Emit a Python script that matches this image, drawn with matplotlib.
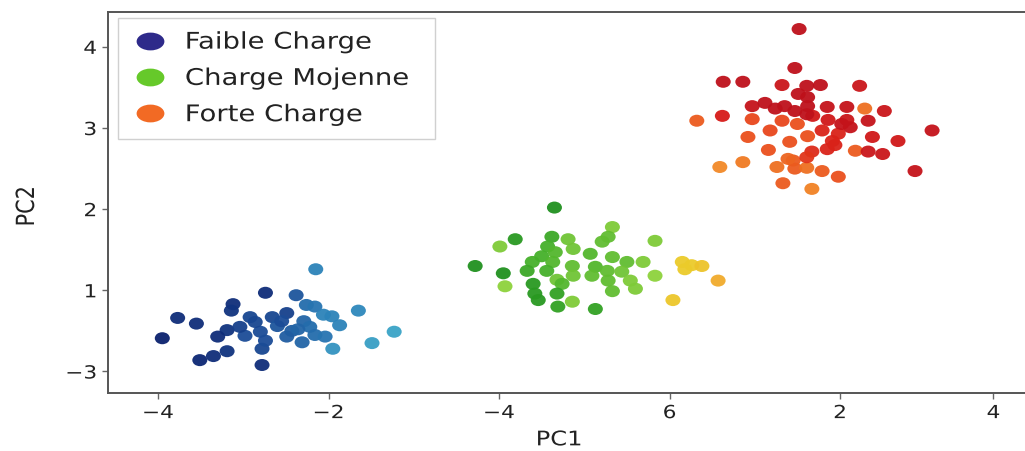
import matplotlib
matplotlib.use("Agg")
import matplotlib.pyplot as plt
import matplotlib.patheffects as pe
from matplotlib.colors import LinearSegmentedColormap
from matplotlib.lines import Line2D
from matplotlib.path import Path
from matplotlib.transforms import Affine2D
import numpy as np

###################### data ###########################
# positions in axis units, shade = place of the dot in its group's colour map

faible_x = [-2.15, -2.74, -2.38, -3.12, -3.14, -2.26, -2.16, -2.06, -1.65, -3.77,
            -3.55, -3.95, -2.92, -2.66, -2.49, -2.29, -1.96, -1.87, -3.19, -3.30,
            -2.98, -2.80, -2.60, -2.49, -2.31, -2.16, -2.04, -1.95, -1.23, -1.49,
            -2.78, -2.78, -3.51, -3.35, -3.19, -2.86, -2.43, -2.74, -3.04, -2.55,
            -2.22, -2.36]
faible_y = [1.26, 0.97, 0.94, 0.83, 0.75, 0.82, 0.80, 0.70, 0.75, 0.66,
            0.59, 0.41, 0.67, 0.67, 0.72, 0.62, 0.68, 0.57, 0.51, 0.43,
            0.44, 0.49, 0.56, 0.43, 0.36, 0.45, 0.43, 0.28, 0.49, 0.35,
            0.28, 0.08, 0.14, 0.19, 0.25, 0.61, 0.50, 0.38, 0.55, 0.62,
            0.55, 0.52]
faible_shade = [0.70, 0.10, 0.40, 0.10, 0.15, 0.55, 0.60, 0.70, 0.75, 0.10,
                0.10, 0.00, 0.30, 0.30, 0.25, 0.50, 0.70, 0.70, 0.15, 0.10,
                0.35, 0.35, 0.40, 0.45, 0.50, 0.55, 0.60, 0.85, 1.00, 0.95,
                0.30, 0.10, 0.05, 0.10, 0.15, 0.30, 0.45, 0.35, 0.25, 0.35,
                0.55, 0.50]

moyenne_x = [0.65, 1.33, 1.28, 1.21, 0.19, 0.01, 0.62, 0.81, 1.83, 0.57,
             0.66, 0.87, 0.50, 1.07, 1.33, 1.50, -0.28, 0.39, 0.63, 0.86,
             1.13, 1.27, 1.44, 1.69, 0.05, 0.33, 0.56, 0.87, 1.09, 1.83,
             1.28, 1.54, 0.68, 0.07, 0.40, 0.74, 1.33, 1.60, 0.42, 0.68,
             0.46, 0.86, 0.69, 1.13, 2.15, 2.26, 2.38, 2.18, 2.57, 2.04]
moyenne_y = [2.02, 1.78, 1.66, 1.60, 1.63, 1.54, 1.66, 1.63, 1.61, 1.54,
             1.47, 1.51, 1.42, 1.45, 1.41, 1.35, 1.30, 1.35, 1.35, 1.30,
             1.29, 1.24, 1.23, 1.35, 1.21, 1.24, 1.24, 1.18, 1.18, 1.18,
             1.12, 1.12, 1.13, 1.05, 1.08, 1.08, 0.99, 1.02, 0.96, 0.96,
             0.88, 0.86, 0.80, 0.77, 1.35, 1.31, 1.30, 1.26, 1.12, 0.88]
moyenne_shade = [0.05, 0.45, 0.35, 0.35, 0.10, 0.45, 0.20, 0.40, 0.45, 0.25,
                 0.30, 0.40, 0.25, 0.30, 0.35, 0.35, 0.05, 0.25, 0.30, 0.35,
                 0.30, 0.35, 0.40, 0.45, 0.05, 0.20, 0.25, 0.40, 0.35, 0.50,
                 0.35, 0.45, 0.40, 0.50, 0.10, 0.30, 0.35, 0.45, 0.10, 0.15,
                 0.10, 0.45, 0.15, 0.15, 0.75, 0.75, 0.80, 0.75, 0.95, 0.78]

forte_x = [3.52, 3.47, 2.63, 2.86, 3.32, 3.61, 3.77, 4.23, 3.51, 3.62,
           2.97, 3.12, 3.24, 3.35, 3.47, 3.62, 3.85, 4.08, 4.29, 4.52,
           2.32, 2.62, 2.97, 3.32, 3.50, 3.68, 3.86, 4.08, 4.33, 4.12,
           3.18, 3.79, 3.98, 4.38, 4.68, 5.08, 2.92, 3.62, 3.41, 3.94,
           3.16, 3.67, 3.85, 4.18, 4.33, 4.50, 2.59, 2.86, 3.26, 3.45,
           3.47, 3.61, 3.79, 3.98, 3.33, 3.67, 4.88, 3.91, 4.02, 3.61,
           3.61, 3.39]
forte_y = [4.22, 3.74, 3.57, 3.57, 3.53, 3.52, 3.53, 3.52, 3.42, 3.38,
           3.27, 3.31, 3.24, 3.27, 3.21, 3.27, 3.26, 3.26, 3.24, 3.21,
           3.09, 3.15, 3.11, 3.09, 3.05, 3.15, 3.10, 3.10, 3.09, 3.01,
           2.97, 2.97, 2.93, 2.89, 2.84, 2.97, 2.89, 2.90, 2.83, 2.79,
           2.73, 2.71, 2.74, 2.72, 2.71, 2.68, 2.52, 2.58, 2.52, 2.60,
           2.50, 2.51, 2.47, 2.40, 2.32, 2.25, 2.47, 2.84, 3.05, 3.17,
           2.64, 2.62]
forte_shade = [0.05, 0.05, 0.05, 0.05, 0.15, 0.05, 0.05, 0.15, 0.05, 0.05,
               0.10, 0.05, 0.05, 0.05, 0.05, 0.05, 0.10, 0.10, 0.70, 0.15,
               0.60, 0.25, 0.50, 0.50, 0.55, 0.20, 0.20, 0.15, 0.10, 0.10,
               0.50, 0.30, 0.30, 0.20, 0.20, 0.10, 0.55, 0.55, 0.55, 0.30,
               0.55, 0.35, 0.30, 0.60, 0.15, 0.15, 0.85, 0.75, 0.70, 0.60,
               0.60, 0.70, 0.60, 0.55, 0.60, 0.80, 0.10, 0.30, 0.10, 0.05,
               0.40, 0.65]

# the source chart has these (odd) tick labels
x_ticks = [-4, -2, 0, 2, 4, 5.8]
x_tick_labels = ["\u22124", "\u22122", "\u22124", "6", "2", "4"]
y_ticks = [0, 1, 2, 3, 4]
y_tick_labels = ["\u22123", "1", "2", "3", "4"]

legend_labels = ["Faible Charge", "Charge Mojenne", "Forte Charge"]
legend_colors = ["#2e2a8a", "#66c92a", "#f26a24"]


###################### helpers ###########################
class Stretch(pe.AbstractPathEffect):
    # the source image is stretched horizontally, so widen the glyphs a bit
    def __init__(self, sx=1.2, sy=1.0, anchor="left"):
        super().__init__()
        self.sx, self.sy, self.anchor = sx, sy, anchor

    def draw_path(self, renderer, gc, tpath, affine, rgbFace=None):
        ext = tpath.get_extents()
        cx = {"left": ext.x0, "center": (ext.x0 + ext.x1) / 2, "right": ext.x1}[self.anchor]
        cy = (ext.y0 + ext.y1) / 2
        t = Affine2D().translate(-cx, -cy).scale(self.sx, self.sy).translate(cx, cy)
        renderer.draw_path(gc, tpath, t + affine, rgbFace)


def ellipse(ratio):
    circle = Path.unit_circle()
    return Path(circle.vertices * [1.0, ratio], circle.codes)


cmap_faible = LinearSegmentedColormap.from_list("faible", ["#0a216e", "#1a4a95", "#2a7fb8", "#3aa3c6"])
cmap_moyenne = LinearSegmentedColormap.from_list("moyenne", ["#178a1c", "#45b02a", "#8cd23c", "#ebcb2a", "#f2a42c"])
cmap_forte = LinearSegmentedColormap.from_list("forte", ["#b80f1c", "#d61a18", "#e8461c", "#f07a22", "#f4a030"])

dot = ellipse(0.8)


###################### plot ###########################
fig = plt.figure(figsize=(10.25, 4.52), dpi=100)
ax = fig.add_axes([108 / 1025, 58 / 452, 917 / 1025, 381 / 452])

for xs, ys, shade, cmap in [(faible_x, faible_y, faible_shade, cmap_faible),
                            (moyenne_x, moyenne_y, moyenne_shade, cmap_moyenne),
                            (forte_x, forte_y, forte_shade, cmap_forte)]:
    ax.scatter(xs, ys, c=shade, cmap=cmap, vmin=0, vmax=1, s=117, marker=dot,
               linewidths=0, alpha=0.95)

ax.set_xlim(-4.587, 6.17)
ax.set_ylim(-0.265, 4.43)

ax.set_xticks(x_ticks, x_tick_labels, fontsize=13, color="#222222")
ax.set_yticks(y_ticks, y_tick_labels, fontsize=13, color="#222222")
ax.tick_params(length=4, width=1, color="#666666", pad=4)
for t in ax.get_xticklabels():
    t.set_path_effects([Stretch(anchor="center")])
for t in ax.get_yticklabels():
    t.set_path_effects([Stretch(anchor="right")])

ax.spines["right"].set_visible(False)
for side in ["left", "bottom", "top"]:
    ax.spines[side].set_color("#555555")
    ax.spines[side].set_linewidth(1.4)

ax.set_xlabel("PC1", fontsize=14.5, color="#222222",
              path_effects=[Stretch(anchor="center")])
ax.xaxis.set_label_coords(0.492, -0.098)
ax.set_ylabel("PC2", fontsize=15, color="#222222",
              path_effects=[Stretch(sx=1.0, sy=1.2)])
ax.yaxis.set_label_coords(-0.078, 0.49)

handles = [Line2D([], [], linestyle="none", marker=ellipse(0.64), markersize=20,
                  markerfacecolor=c, markeredgewidth=0) for c in legend_colors]
leg = ax.legend(handles, legend_labels, loc="upper left", mode="expand",
                bbox_to_anchor=(10 / 917, 0.5, 317 / 917, 375 / 381 - 0.5),
                borderaxespad=0, fontsize=16.5, labelspacing=0.58,
                borderpad=0.55, handlelength=1.7, handletextpad=0.68,
                fancybox=False, edgecolor="#d0d0d0", framealpha=1)
for t in leg.get_texts():
    t.set_color("#222222")
    t.set_path_effects([Stretch(anchor="left")])

fig.savefig("out.png", dpi=100)
